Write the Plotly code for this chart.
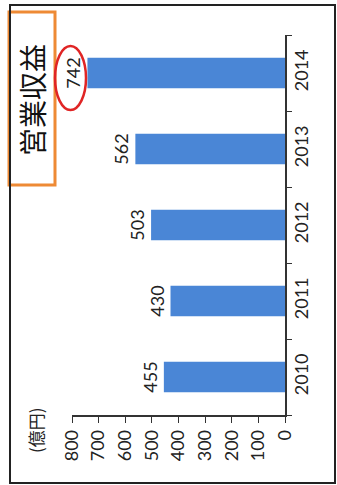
import plotly.graph_objects as go

years = ["2010", "2011", "2012", "2013", "2014"]
revenue = [455, 430, 503, 562, 742]
value_ticks = [0, 100, 200, 300, 400, 500, 600, 700, 800]
title_text = "営業収益"
unit_text = "(億円)"

W, H = 337, 485
L, R, T, B = 72, 52, 35, 70
PW, PH = W - L - R, H - T - B

def px(x):
    return (x - L) / PW

def py(y):
    return (H - B - y) / PH

fig = go.Figure(go.Bar(
    x=revenue, y=years, orientation="h",
    marker=dict(color="#4A86D6", line=dict(width=0)),
    text=[str(v) for v in revenue], textposition="outside", textangle=-90,
    textfont=dict(family="Lato", size=18, color="#222"),
    cliponaxis=False,
))

fig.update_layout(
    width=W, height=H,
    margin=dict(l=L, r=R, t=T, b=B),
    paper_bgcolor="white", plot_bgcolor="white",
    bargap=0.6, showlegend=False,
    font=dict(family="Lato", size=18, color="#222"),
    xaxis=dict(range=[800, 0], tickvals=value_ticks, tickangle=-90,
               showline=True, linecolor="#333", linewidth=1.5,
               ticks="outside", ticklen=6, tickcolor="#333",
               showgrid=False, zeroline=False, fixedrange=True),
    yaxis=dict(side="right", type="category", tickangle=-90,
               showline=True, linecolor="#333", linewidth=1.5,
               ticks="outside", tickson="boundaries", ticklen=5, tickcolor="#333",
               showgrid=False, fixedrange=True),
    shapes=[
        dict(type="rect", xref="paper", yref="paper",
             x0=px(10), x1=px(335), y0=py(483), y1=py(5),
             line=dict(color="#222", width=2)),
        dict(type="rect", xref="paper", yref="paper",
             x0=px(9), x1=px(55), y0=py(185), y1=py(12),
             line=dict(color="#EE8A35", width=3), fillcolor="white", layer="below"),
        dict(type="circle", xref="paper", yref="paper",
             x0=px(55), x1=px(86), y0=py(110), y1=py(46),
             line=dict(color="#E02525", width=2.5)),
    ],
    annotations=[
        dict(text=title_text, xref="paper", yref="paper", x=px(32), y=py(100),
             xanchor="center", yanchor="middle",
             showarrow=False, textangle=-90,
             font=dict(family="Noto Sans CJK JP", size=28, color="#111")),
        dict(text=unit_text, xref="paper", yref="paper", x=px(35), y=py(430),
             xanchor="center", yanchor="middle",
             showarrow=False, textangle=-90,
             font=dict(family="Noto Sans CJK JP", size=17, color="#222")),
    ],
)

fig.write_html("out.html")
